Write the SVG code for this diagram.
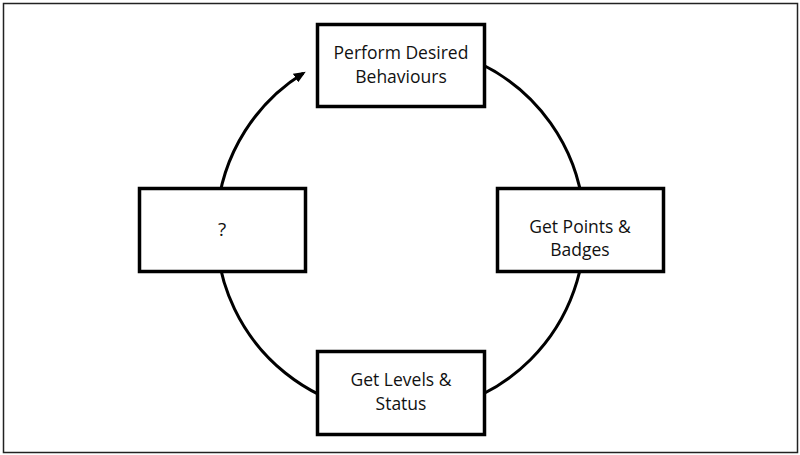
<svg xmlns="http://www.w3.org/2000/svg" width="800" height="455" viewBox="0 0 800 455">
  <defs>
    <marker id="arrow" viewBox="0 0 12 10" refX="9" refY="5" markerWidth="12" markerHeight="10" markerUnits="userSpaceOnUse" orient="auto">
      <path d="M0,0 L12,5 L0,10 z" fill="#000"/>
    </marker>
    <style>
      .box { fill: #fff; stroke: #000; stroke-width: 3.5; }
      .lbl { font-family: "Open Sans", "Noto Sans", "Liberation Sans", sans-serif; font-size: 17.5px; fill: #111; text-anchor: middle; }
      .conn { fill: none; stroke: #000; stroke-width: 3; }
    </style>
  </defs>
  <rect x="3.5" y="3.5" width="794" height="449" fill="#fff" stroke="#222" stroke-width="1.5"/>
  <g id="connectors">
    <path class="conn" d="M 400.5 45.5 A 184 184 0 1 1 303.2 73.3" marker-end="url(#arrow)"/>
  </g>
  <g id="node-perform">
    <rect class="box" x="317.5" y="24.5" width="167" height="82"/>
    <text class="lbl" x="401" y="59">Perform Desired</text>
    <text class="lbl" x="401" y="83">Behaviours</text>
  </g>
  <g id="node-points">
    <rect class="box" x="497.5" y="188.5" width="166" height="83"/>
    <text class="lbl" x="580" y="233">Get Points &amp;</text>
    <text class="lbl" x="580" y="256">Badges</text>
  </g>
  <g id="node-levels">
    <rect class="box" x="317.5" y="351.5" width="167" height="83"/>
    <text class="lbl" x="401" y="386">Get Levels &amp;</text>
    <text class="lbl" x="401" y="410">Status</text>
  </g>
  <g id="node-unknown">
    <rect class="box" x="139.5" y="188.5" width="166" height="83"/>
    <text class="lbl" x="222" y="236" style="font-size:19px">?</text>
  </g>
</svg>
